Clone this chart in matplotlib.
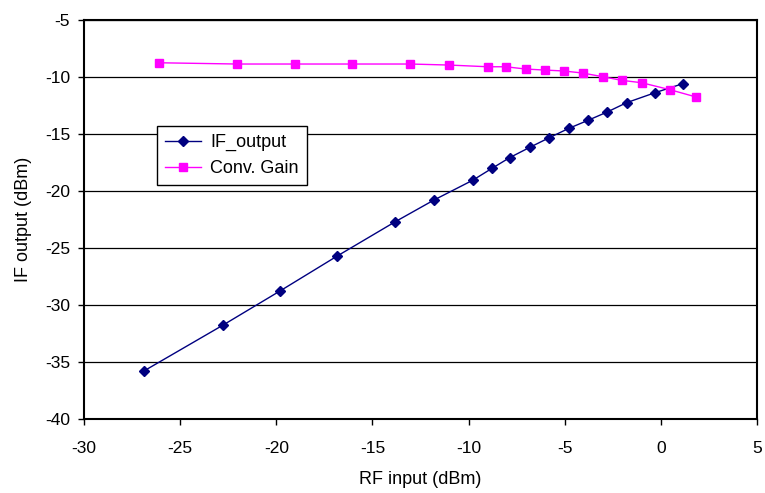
import matplotlib
matplotlib.use('Agg')
import matplotlib.pyplot as plt

plt.rcParams['font.family'] = ['Liberation Sans', 'DejaVu Sans']
plt.rcParams['axes.unicode_minus'] = False

# measured mixer response
rf_if = [-26.86, -22.79, -19.79, -16.83, -13.81, -11.80, -9.79, -8.78, -7.85,
         -6.83, -5.80, -4.78, -3.79, -2.79, -1.78, -0.31, 1.13]
if_output = [-35.76, -31.78, -28.75, -25.70, -22.69, -20.79, -19.06, -18.01, -17.06,
             -16.18, -15.32, -14.50, -13.80, -13.07, -12.25, -11.38, -10.59]

rf_gain = [-26.10, -22.04, -19.03, -16.05, -13.02, -11.02, -8.99, -8.06, -7.03,
           -6.04, -5.05, -4.07, -3.03, -2.04, -1.00, 0.47, 1.83]
conv_gain = [-8.75, -8.86, -8.86, -8.86, -8.86, -8.95, -9.10, -9.10, -9.30,
             -9.39, -9.47, -9.65, -9.97, -10.29, -10.50, -11.11, -11.75]

fig = plt.figure(figsize=(7.65, 4.93), dpi=100)
ax = fig.add_axes([0.1098, 0.150, 0.8797, 0.8094])

ax.plot(rf_if, if_output, color='#000080', marker='D', markersize=5,
        linewidth=1, label='IF_output')
ax.plot(rf_gain, conv_gain, color='#FF00FF', marker='s', markersize=5.5,
        linewidth=1, label='Conv. Gain')

ax.set_xlim(-30, 5)
ax.set_ylim(-40, -5)
ax.set_xticks(range(-30, 6, 5))
ax.set_yticks(range(-40, -4, 5))
ax.yaxis.grid(True, color='black', linewidth=0.9)
ax.set_axisbelow(True)
ax.tick_params(direction='out', length=4, width=1, labelsize=12.5)
ax.tick_params(axis='x', pad=12)
ax.tick_params(axis='y', pad=6)
for sp in ax.spines.values():
    sp.set_linewidth(1.5)
    sp.set_color('black')

ax.set_xlabel('RF input (dBm)', fontsize=13, labelpad=10.5)
ax.set_ylabel('IF output (dBm)', fontsize=13, labelpad=9)

leg = ax.legend(loc='upper left', bbox_to_anchor=(0.108, 0.735), fontsize=13,
                fancybox=False, framealpha=1, edgecolor='black',
                handlelength=2.0, handletextpad=0.5, borderpad=0.45,
                labelspacing=0.5, borderaxespad=0)
leg.get_frame().set_linewidth(1)

fig.savefig('out.png', dpi=100)
